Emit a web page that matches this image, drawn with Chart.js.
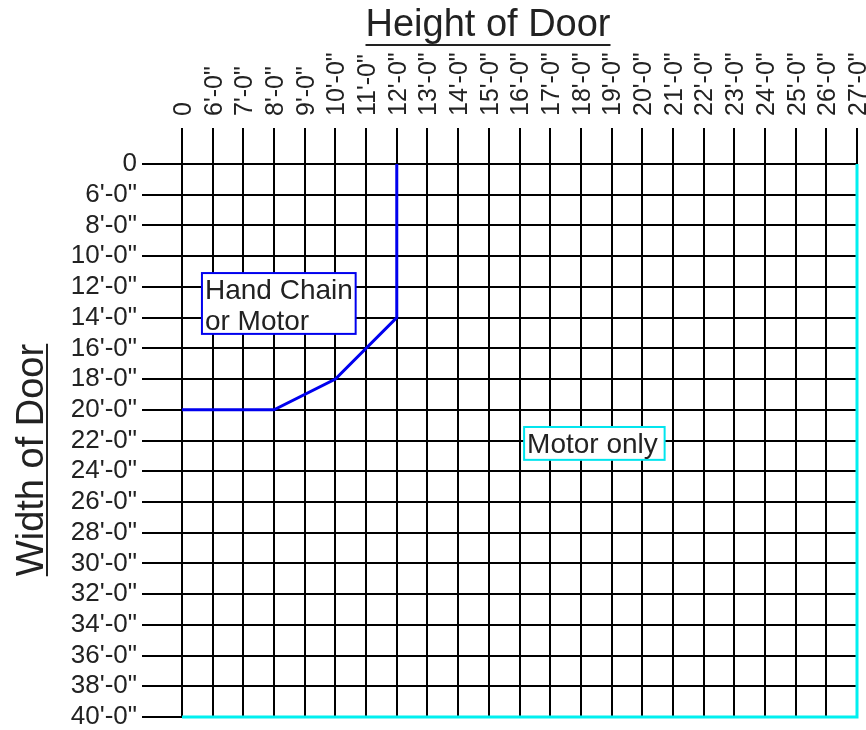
<!DOCTYPE html>
<html>
<head>
<meta charset="utf-8">
<script src="https://cdn.jsdelivr.net/npm/chart.js@4"></script>
<style>
  html, body { margin: 0; padding: 0; background: #fff; }
  #wrap { width: 866px; height: 730px; }
</style>
</head>
<body>
<div id="wrap"><canvas id="chart" width="866" height="730"></canvas></div>
<script>
const xLabels = ["0", "6'-0\"", "7'-0\"", "8'-0\"", "9'-0\"", "10'-0\"", "11'-0\"", "12'-0\"", "13'-0\"", "14'-0\"", "15'-0\"", "16'-0\"", "17'-0\"", "18'-0\"", "19'-0\"", "20'-0\"", "21'-0\"", "22'-0\"", "23'-0\"", "24'-0\"", "25'-0\"", "26'-0\"", "27'-0\""];
const yLabels = ["0", "6'-0\"", "8'-0\"", "10'-0\"", "12'-0\"", "14'-0\"", "16'-0\"", "18'-0\"", "20'-0\"", "22'-0\"", "24'-0\"", "26'-0\"", "28'-0\"", "30'-0\"", "32'-0\"", "34'-0\"", "36'-0\"", "38'-0\"", "40'-0\""];

// boundary lines, as positions on the label grids above (index into xLabels / yLabels)
const handChainX = [7, 7, 5, 3, 0];
const handChainY = [0, 5, 7, 8, 8];
const motorOnlyX = [22, 22, 0];
const motorOnlyY = [0, 18, 18];

const xTitle = "Height of Door";
const yTitle = "Width of Door";
const handChainText = ["Hand Chain", "or Motor"];
const motorOnlyText = ["Motor only"];

const FONT = "'Liberation Sans', Arial, Helvetica, sans-serif";

const toPoints = (xs, ys) => xs.map((x, i) => ({ x, y: ys[i] }));

const noPad = s => { s.paddingLeft = 0; s.paddingRight = 0; s.paddingTop = 0; s.paddingBottom = 0; };

const overlay = {
  id: "overlay",
  afterDraw(chart) {
    const ctx = chart.ctx;
    const xs = chart.scales.x, ys = chart.scales.y;
    ctx.save();
    ctx.fillStyle = "#222";
    ctx.strokeStyle = "#222";

    // top title, underlined
    ctx.font = "38px " + FONT;
    ctx.textAlign = "center";
    ctx.textBaseline = "alphabetic";
    const cx = 488;
    ctx.fillText(xTitle, cx, 36);
    let w = ctx.measureText(xTitle).width;
    ctx.lineWidth = 2;
    ctx.beginPath(); ctx.moveTo(cx - w / 2, 45); ctx.lineTo(cx + w / 2, 45); ctx.stroke();

    // left title, rotated and underlined
    ctx.save();
    ctx.translate(43, 460);
    ctx.rotate(-Math.PI / 2);
    ctx.fillText(yTitle, 0, 0);
    w = ctx.measureText(yTitle).width;
    ctx.beginPath(); ctx.moveTo(-w / 2, 4); ctx.lineTo(w / 2, 4); ctx.stroke();
    ctx.restore();

    // label boxes
    const box = (lines, x0, y0, x1, y1, color) => {
      const l = xs.getPixelForValue(x0), r = xs.getPixelForValue(x1);
      const t = ys.getPixelForValue(y0), b = ys.getPixelForValue(y1);
      ctx.fillStyle = "#fff";
      ctx.fillRect(l, t, r - l, b - t);
      ctx.strokeStyle = color;
      ctx.lineWidth = 2;
      ctx.strokeRect(l, t, r - l, b - t);
      ctx.fillStyle = "#222";
      ctx.font = "28px " + FONT;
      ctx.textAlign = "left";
      ctx.textBaseline = "alphabetic";
      lines.forEach((s, i) => ctx.fillText(s, l + 3, t + 26 + i * 31));
    };
    box(handChainText, 0.65, 3.55, 5.66, 5.53, "#0000ee");
    box(motorOnlyText, 11.15, 8.56, 15.73, 9.63, "#00e5ee");
    ctx.restore();
  }
};

new Chart(document.getElementById("chart"), {
  type: "scatter",
  data: {
    datasets: [
      { data: toPoints(handChainX, handChainY), showLine: true, borderColor: "#0000ee", borderWidth: 3, pointRadius: 0, clip: false },
      { data: toPoints(motorOnlyX, motorOnlyY), showLine: true, borderColor: "#00f0f0", borderWidth: 3, pointRadius: 0, clip: false }
    ]
  },
  options: {
    responsive: false,
    animation: false,
    layout: { padding: { left: 0, right: 9, top: 0, bottom: 13 } },
    plugins: { legend: { display: false }, tooltip: { enabled: false } },
    scales: {
      x: {
        type: "linear", position: "top", min: 0, max: xLabels.length - 1,
        afterFit: s => { s.height = 164; noPad(s); },
        grid: { color: "#000", lineWidth: 2, tickLength: 36, tickColor: "#000" },
        border: { color: "#000", width: 2 },
        ticks: {
          stepSize: 1, autoSkip: false, minRotation: 90, maxRotation: 90, padding: 12, labelOffset: 32,
          color: "#222", font: { family: FONT, size: 25 },
          callback: v => xLabels[v]
        }
      },
      y: {
        type: "linear", reverse: true, min: 0, max: yLabels.length - 1,
        afterFit: s => { s.width = 182; noPad(s); },
        grid: { color: "#000", lineWidth: 2, tickLength: 40, tickColor: "#000" },
        border: { color: "#000", width: 2 },
        ticks: {
          stepSize: 1, autoSkip: false, padding: 5,
          color: "#222", font: { family: FONT, size: 26 },
          callback: v => yLabels[v]
        }
      }
    }
  },
  plugins: [overlay]
});
</script>
</body>
</html>
